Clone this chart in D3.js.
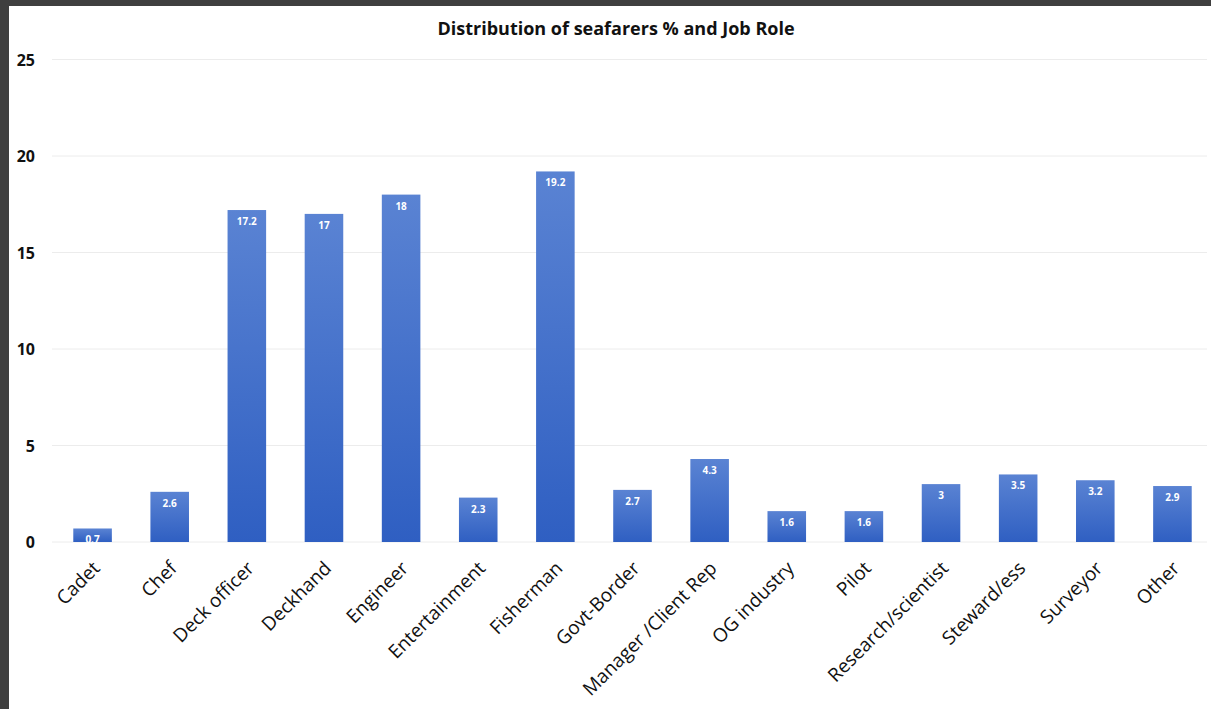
<!DOCTYPE html>
<html><head><meta charset="utf-8">
<script src="https://cdn.jsdelivr.net/npm/d3@7"></script>
<style>body{margin:0;background:#3f3f3f;}svg{display:block;}</style>
</head><body>
<script>
const categories = ["Cadet","Chef","Deck officer","Deckhand","Engineer","Entertainment","Fisherman","Govt-Border","Manager /Client Rep","OG industry","Pilot","Research/scientist","Steward/ess","Surveyor","Other"];
const values = [0.7,2.6,17.2,17,18,2.3,19.2,2.7,4.3,1.6,1.6,3,3.5,3.2,2.9];
const yTicks = [0,5,10,15,20,25];
const title = "Distribution of seafarers % and Job Role";

const W = 1211, H = 709;
const svg = d3.select("body").append("svg").attr("width", W).attr("height", H);
svg.append("rect").attr("width", W).attr("height", H).attr("fill", "#3f3f3f");
svg.append("rect").attr("x", 9).attr("y", 6).attr("width", W - 9).attr("height", H - 6).attr("fill", "#ffffff");

const defs = svg.append("defs");
const g = defs.append("linearGradient").attr("id", "bg").attr("x1", 0).attr("y1", 0).attr("x2", 0).attr("y2", 1);
g.append("stop").attr("offset", "0%").attr("stop-color", "#5a83d3");
g.append("stop").attr("offset", "100%").attr("stop-color", "#2f5fc2");

const x = d3.scaleBand().domain(categories).range([54, 1211]).paddingInner(0.5).paddingOuter(0.25);
const y = d3.scaleLinear().domain([0, 25]).range([542, 59.5]);

svg.append("g").selectAll("line").data(yTicks).join("line")
  .attr("x1", 52).attr("x2", 1207)
  .attr("y1", d => y(d)).attr("y2", d => y(d))
  .attr("stroke", "#ececec").attr("stroke-width", 1);

svg.append("g").selectAll("text").data(yTicks).join("text")
  .attr("x", 35).attr("y", d => y(d) + 6)
  .attr("text-anchor", "end")
  .attr("font-family", "'Open Sans', 'Liberation Sans', sans-serif")
  .attr("font-weight", "bold").attr("font-size", 16).attr("fill", "#111")
  .text(d => d);

const data = categories.map((c, i) => ({c, v: values[i]}));
svg.append("g").selectAll("rect").data(data).join("rect")
  .attr("x", d => x(d.c)).attr("width", x.bandwidth())
  .attr("y", d => y(d.v)).attr("height", d => y(0) - y(d.v))
  .attr("fill", "url(#bg)");

svg.append("g").selectAll("text").data(data).join("text")
  .attr("x", d => x(d.c) + x.bandwidth() / 2).attr("y", d => y(d.v) + 15)
  .attr("text-anchor", "middle")
  .attr("font-family", "'Open Sans', 'Liberation Sans', sans-serif")
  .attr("font-weight", "bold").attr("font-size", 10).attr("fill", "#ffffff")
  .text(d => d.v);

svg.append("g").selectAll("text").data(categories).join("text")
  .attr("transform", d => `translate(${x(d) + x.bandwidth() / 2 - 1},${560}) rotate(-45)`)
  .attr("text-anchor", "end").attr("dy", "0.7em")
  .attr("font-family", "'Open Sans', 'Liberation Sans', sans-serif")
  .attr("font-size", 19).attr("fill", "#111")
  .text(d => d);

svg.append("text").attr("x", 616).attr("y", 35).attr("text-anchor", "middle")
  .attr("font-family", "'Open Sans', 'Liberation Sans', sans-serif")
  .attr("font-weight", "bold").attr("font-size", 18).attr("fill", "#111")
  .text(title);
</script>
</body></html>
